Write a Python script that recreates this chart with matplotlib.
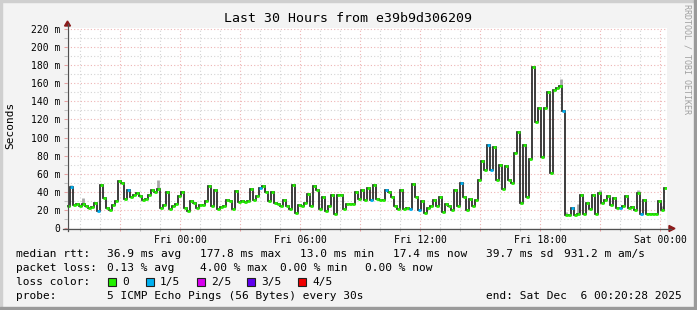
import numpy as np
import matplotlib
matplotlib.use('Agg')
import matplotlib.pyplot as plt
import matplotlib.dates as mdates
from matplotlib.ticker import MultipleLocator, FuncFormatter
from matplotlib.patches import Rectangle, Polygon
from matplotlib.lines import Line2D

# ---------------- data ----------------
title = "Last 30 Hours from e39b9d306209"
start = np.datetime64('2025-12-04T18:20:28')
end = np.datetime64('2025-12-06T00:20:28')
step_minutes = 9

median_ms = [
    24, 45, 25, 27, 24, 26, 24, 22, 23, 28, 19, 47, 33, 22, 20, 25, 30, 52, 50, 32,
    42, 34, 36, 39, 35, 31, 32, 36, 42, 40, 43, 22, 25, 40, 21, 24, 26, 35, 40, 22,
    19, 30, 28, 22, 25, 25, 30, 46, 24, 42, 21, 23, 24, 31, 30, 21, 41, 29, 30, 29,
    30, 43, 31, 35, 44, 46, 40, 30, 40, 28, 26, 24, 31, 24, 21, 48, 17, 25, 24, 28,
    38, 24, 46, 42, 21, 34, 19, 24, 36, 15, 36, 37, 21, 27, 26, 26, 40, 32, 42, 31,
    44, 31, 47, 32, 31, 31, 42, 40, 34, 24, 21, 42, 21, 22, 21, 49, 34, 20, 30, 17,
    22, 24, 31, 24, 34, 18, 27, 24, 20, 42, 24, 50, 34, 20, 32, 24, 31, 53, 74, 64,
    92, 64, 89, 53, 70, 43, 69, 53, 50, 83, 106, 28, 92, 34, 76, 178, 117, 133, 78, 133,
    150, 61, 153, 155, 157, 129,
    14, 14, 22, 14, 15, 37, 16, 28, 21, 37, 16, 39, 28, 31, 35, 25, 33, 22, 22, 24,
    35, 22, 23, 20, 39, 16, 31, 16, 16, 16, 16, 30, 20, 44,
]
blue_points = [1, 10, 20, 64, 101, 106, 114, 117, 131, 140, 141, 165, 168, 184, 191]
smoke_idx = [1, 5, 30, 164, 166, 170, 177, 190, 198]
smoke_hi = [47, 33, 53, 165, 18, 26, 42, 42, 24]

y_ticks = [0, 20, 40, 60, 80, 100, 120, 140, 160, 180, 200, 220]
x_tick_times = ['2025-12-05T00:00', '2025-12-05T06:00', '2025-12-05T12:00',
                '2025-12-05T18:00', '2025-12-06T00:00']
x_tick_labels = ['Fri 00:00', 'Fri 06:00', 'Fri 12:00', 'Fri 18:00', 'Sat 00:00']

loss_labels = ['0', '1/5', '2/5', '3/5', '4/5']
loss_colors = ['#22f000', '#00b0f0', '#d800f0', '#6000f0', '#f00000']

legend_rows = [
    [("median rtt:", 16), ("36.9 ms avg", 107), ("177.8 ms max", 200),
     ("13.0 ms min", 300), ("17.4 ms now", 393), ("39.7 ms sd", 486), ("931.2 m am/s", 564)],
    [("packet loss:", 16), ("0.13 % avg", 107), ("4.00 % max", 200),
     ("0.00 % min", 280), ("0.00 % now", 365)],
]
probe_text = "5 ICMP Echo Pings (56 Bytes) every 30s"
end_text = "end: Sat Dec  6 00:20:28 2025"

# ---------------- figure ----------------
W, H = 697, 310
MONO = 'DejaVu Sans Mono'
LEG_FS = 8.0
AX_FS = 7.0

fig = plt.figure(figsize=(W / 100, H / 100), dpi=100)
fig.patch.set_facecolor('#f3f3f3')


def fx(x):
    return x / W


def fy(y):
    return 1 - y / H


ax = fig.add_axes([fx(67), fy(228), 600 / W, 200 / H])
ax.set_facecolor('white')

vals = np.array(median_ms, dtype=float)
n = len(vals)
edges = start + np.arange(n + 1) * np.timedelta64(step_minutes * 60, 's')
e = mdates.date2num(edges)
centers = (e[:-1] + e[1:]) / 2

# smoke (spread)
ax.vlines(centers[smoke_idx], vals[smoke_idx], smoke_hi, colors='#a8a8a8', lw=2.0, zorder=2)
# median step line
ax.stairs(vals, e, baseline=None, color='#1c1c1c', lw=1.2, zorder=3)
# loss coloured median pieces
loss = np.zeros(n, dtype=int)
loss[blue_points] = 1
cols = [loss_colors[k] for k in loss]
ax.hlines(vals, e[:-1], e[1:], colors=cols, lw=2.0, zorder=4)

ax.set_xlim(mdates.date2num(start), mdates.date2num(end))
ax.set_ylim(0, 221.1)

# grids
ax.xaxis.set_major_locator(mdates.HourLocator(byhour=range(0, 24, 3)))
ax.xaxis.set_minor_locator(mdates.HourLocator())
lab_map = {round(float(mdates.date2num(np.datetime64(t))), 5): l
           for t, l in zip(x_tick_times, x_tick_labels)}
ax.xaxis.set_major_formatter(FuncFormatter(lambda v, p: lab_map.get(round(v, 5), '')))
ax.yaxis.set_major_locator(MultipleLocator(20))
ax.yaxis.set_minor_locator(MultipleLocator(10))
ax.yaxis.set_major_formatter(FuncFormatter(lambda v, p: '0' if v == 0 else f'{v:.0f} m'))

ax.grid(which='major', color='#eeb4b4', linestyle=(0, (1, 2)), lw=0.8, zorder=0)
ax.grid(which='minor', color='#d4d4d4', linestyle=(0, (1, 2)), lw=0.8, zorder=0)
ax.set_axisbelow(True)
for s in ax.spines.values():
    s.set_visible(False)
ax.tick_params(which='major', direction='out', length=2, width=0.75, color='#e8a0a0',
               labelsize=AX_FS, pad=3)
ax.tick_params(which='minor', direction='out', length=2, width=0.75, color='#c0c0c0')
for lab in ax.get_xticklabels() + ax.get_yticklabels():
    lab.set_fontfamily(MONO)

# axes lines with arrows
fig.add_artist(Line2D([fx(67.5), fx(67.5)], [fy(231), fy(24)], color='#505050', lw=0.9))
fig.add_artist(Line2D([fx(63), fx(671)], [fy(228.5), fy(228.5)], color='#505050', lw=0.9))
fig.add_artist(Polygon([[fx(64.5), fy(26)], [fx(70.5), fy(26)], [fx(67.5), fy(21)]],
                       closed=True, color='#8b1a1a', transform=fig.transFigure))
fig.add_artist(Polygon([[fx(669), fy(225.5)], [fx(669), fy(231.5)], [fx(675), fy(228.5)]],
                       closed=True, color='#8b1a1a', transform=fig.transFigure))

# texts
fig.text(fx(348), fy(19), title, ha='center', va='center', fontsize=9.5, family=MONO)
fig.text(fx(10), fy(125), 'Seconds', ha='center', va='center', rotation=90,
         fontsize=LEG_FS, family=MONO)
fig.text(fx(687), fy(4), 'RRDTOOL / TOBI OETIKER', ha='center', va='top', rotation=270,
         fontsize=6.0, family=MONO, color='#a0a0a0')

row_y = [254, 268, 282, 296]
for r, row in enumerate(legend_rows):
    for txt, x in row:
        fig.text(fx(x), fy(row_y[r]), txt, ha='left', va='center', fontsize=LEG_FS, family=MONO)

fig.text(fx(16), fy(row_y[2]), 'loss color:', ha='left', va='center', fontsize=LEG_FS, family=MONO)
box_x = [108, 146, 197, 247, 298]
for bx, lab, col in zip(box_x, loss_labels, loss_colors):
    fig.add_artist(Rectangle((fx(bx), fy(row_y[2] + 4)), 8 / W, 8 / H, facecolor=col,
                             edgecolor='#202020', lw=0.8, transform=fig.transFigure))
    fig.text(fx(bx + 14), fy(row_y[2]), lab, ha='left', va='center', fontsize=LEG_FS, family=MONO)

fig.text(fx(16), fy(row_y[3]), 'probe:', ha='left', va='center', fontsize=LEG_FS, family=MONO)
fig.text(fx(107), fy(row_y[3]), probe_text, ha='left', va='center', fontsize=LEG_FS, family=MONO)
fig.text(fx(682), fy(row_y[3]), end_text, ha='right', va='center', fontsize=LEG_FS, family=MONO)

# 3D border
fig.add_artist(Rectangle((0, fy(2)), 1, 2 / H, color='#cfcfcf', transform=fig.transFigure))
fig.add_artist(Rectangle((0, 0), 2 / W, 1, color='#cfcfcf', transform=fig.transFigure))
fig.add_artist(Rectangle((0, 0), 1, 3 / H, color='#9a9a9a', transform=fig.transFigure))
fig.add_artist(Rectangle((fx(694), 0), 3 / W, 1, color='#9a9a9a', transform=fig.transFigure))

fig.savefig('out.png', dpi=100, facecolor=fig.get_facecolor())
